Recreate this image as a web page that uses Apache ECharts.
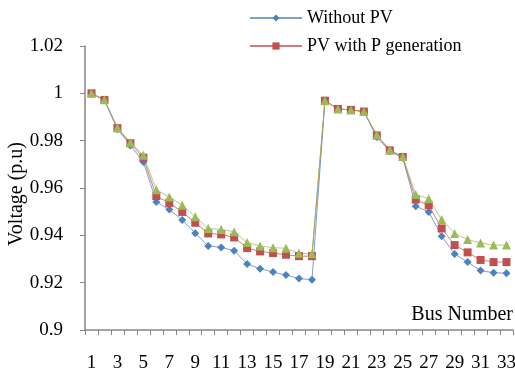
<!DOCTYPE html>
<html>
<head>
<meta charset="utf-8">
<script src="https://cdn.jsdelivr.net/npm/echarts@6/dist/echarts.min.js"></script>
<style>html,body{margin:0;padding:0;background:#fff;}#c{width:515px;height:379px;}</style>
</head>
<body>
<div id="c"></div>
<script>
const buses = Array.from({length: 33}, (_, i) => String(i + 1));
const withoutPV = [1.0, 0.997, 0.9848, 0.978, 0.971, 0.9541, 0.9509, 0.9465, 0.9409, 0.9355, 0.9349, 0.9335, 0.9279, 0.9259, 0.9245, 0.9232, 0.9218, 0.9212, 0.9969, 0.9934, 0.993, 0.9923, 0.9815, 0.9755, 0.9728, 0.9523, 0.9499, 0.9396, 0.9321, 0.9287, 0.9251, 0.9242, 0.924];
const pvP = [1.0, 0.9972, 0.9853, 0.9789, 0.9728, 0.9566, 0.9537, 0.9499, 0.9453, 0.9408, 0.9404, 0.9391, 0.9346, 0.9332, 0.9325, 0.9318, 0.9312, 0.9312, 0.9969, 0.9934, 0.993, 0.9923, 0.9822, 0.9759, 0.9731, 0.9551, 0.9527, 0.9429, 0.9359, 0.9328, 0.9296, 0.9287, 0.9287];
const pvPQ = [1.0, 0.9973, 0.9855, 0.9792, 0.9738, 0.9593, 0.9562, 0.9527, 0.9478, 0.9429, 0.9425, 0.9415, 0.937, 0.9355, 0.9348, 0.9345, 0.9324, 0.9322, 0.9969, 0.9934, 0.993, 0.9923, 0.9825, 0.9761, 0.9733, 0.9573, 0.9555, 0.9467, 0.9408, 0.9382, 0.9368, 0.9359, 0.9359];
const seriesNames = ['Without PV', 'PV with P generation', 'PV with P and Q generation'];
const legendNames = ['Without PV', 'PV with P generation'];

const FONT = 'Liberation Serif';
const chart = echarts.init(document.getElementById('c'), null, {renderer: 'canvas'});
function mk(name, data, color, symbol, size) {
  return {
    name: name, type: 'line', data: data,
    symbol: symbol, symbolSize: size, showSymbol: true, showAllSymbol: true,
    lineStyle: {color: color, width: 1, opacity: 0.75},
    itemStyle: {color: color},
    animation: false
  };
}
chart.setOption({
  animation: false,
  textStyle: {fontFamily: FONT},
  legend: {
    data: legendNames, orient: 'vertical', left: 249, top: 9, padding: 0,
    itemWidth: 52, itemHeight: 9, itemGap: 10,
    textStyle: {fontFamily: FONT, fontSize: 18, color: '#000'}
  },
  grid: {left: 85, right: 2, top: 46, bottom: 49, containLabel: false, outerBoundsMode: 'none'},
  xAxis: {
    type: 'category', data: buses, boundaryGap: true,
    axisLine: {lineStyle: {color: '#868686', width: 1.5}},
    axisTick: {show: true, interval: 0, length: 5, lineStyle: {color: '#868686'}},
    axisLabel: {interval: 1, margin: 24, fontFamily: FONT, fontSize: 19, color: '#000'},
    name: 'Bus Number', nameLocation: 'end', nameGap: 0, nameMoveOverlap: false,
    nameTextStyle: {fontFamily: FONT, fontSize: 20, color: '#000', align: 'right', verticalAlign: 'bottom', padding: [0, 0, 5, 0]},
    splitLine: {show: false}
  },
  yAxis: {
    type: 'value', min: 0.9, max: 1.02, interval: 0.02,
    axisLine: {show: true, lineStyle: {color: '#868686', width: 1.5}},
    axisTick: {show: true, length: 5, lineStyle: {color: '#868686'}},
    axisLabel: {margin: 22, fontFamily: FONT, fontSize: 19, color: '#000'},
    splitLine: {show: false},
    name: 'Voltage (p.u)', nameLocation: 'middle', nameGap: 58, nameRotate: 90, nameMoveOverlap: false,
    nameTextStyle: {fontFamily: FONT, fontSize: 20, color: '#000', padding: [0, 12, 0, 0]}
  },
  series: [
    mk(seriesNames[0], withoutPV, '#4F81BD', 'diamond', 8),
    mk(seriesNames[1], pvP, '#C0504D', 'rect', 8),
    mk(seriesNames[2], pvPQ, '#9BBB59', 'triangle', 9)
  ]
});
</script>
</body>
</html>
